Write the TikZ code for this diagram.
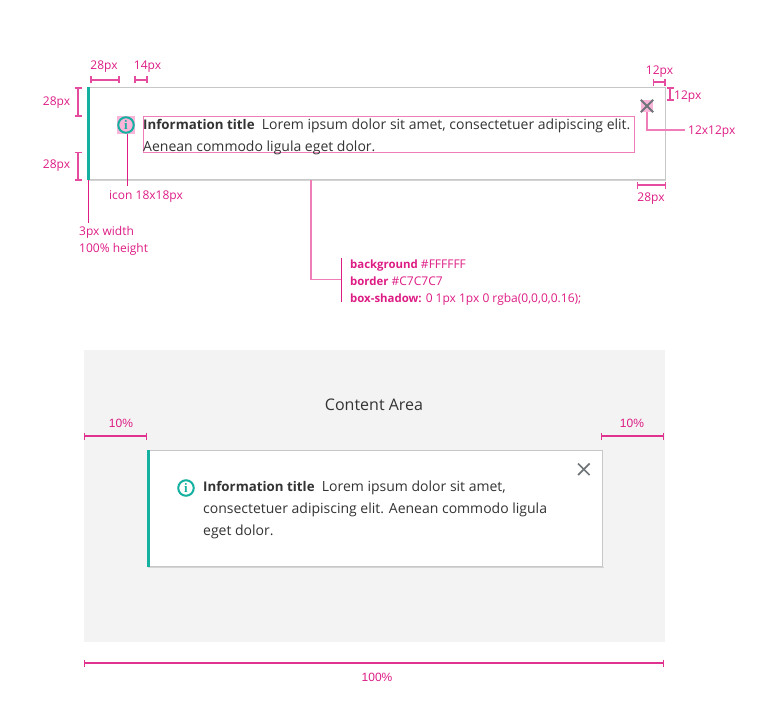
\documentclass[tikz,border=0pt]{standalone}
\usepackage{fontspec}
\setmainfont{Open Sans}[BoldFeatures={Scale=0.95}]
\newfontfamily\iconfont{Liberation Serif}
\newfontfamily\percentfont{Liberation Sans}
\usetikzlibrary{arrows.meta}

\definecolor{specPink}{HTML}{DD1C84}
\definecolor{dimPink}{HTML}{E54C9F}
\definecolor{leadPink}{HTML}{EE7DB8}
\definecolor{tagPink}{HTML}{F9B4DA}
\definecolor{alertTeal}{HTML}{14B0A0}
\definecolor{alertBorder}{HTML}{C7C7C7}
\definecolor{shadowGray}{HTML}{D4D4D4}
\definecolor{areaGray}{HTML}{F3F3F3}
\definecolor{bodyText}{HTML}{333333}
\definecolor{closeGray}{HTML}{6F7578}

\tikzset{
    spec/.style={text=specPink, font=\fontsize{12}{14}\selectfont, inner sep=0pt},
    percent/.style={text=specPink, font=\fontsize{12}{14}\percentfont, inner sep=0pt},
    copytext/.style={text=bodyText, font=\fontsize{14}{22}\selectfont, inner sep=0pt, anchor=base west},
    dimline/.style={dimPink, line width=2pt, {Bar[width=7pt,line width=1.5pt]}-{Bar[width=7pt,line width=1.5pt]}},
    thindim/.style={specPink!90!white, line width=1.5pt, {Bar[width=7pt,line width=1pt]}-{Bar[width=7pt,line width=1pt]}},
    leader/.style={specPink, line width=1pt},
    softleader/.style={leadPink, line width=1.5pt},
    infoicon/.style={circle, draw=alertTeal, line width=2pt, minimum size=15.5pt, inner sep=0pt, text=alertTeal, font=\fontsize{13}{13}\iconfont\bfseries},
}

\begin{document}
\begin{tikzpicture}[x=1pt, y=-1pt]
    \useasboundingbox (0,0) rectangle (760,720);

    % top card
    \fill[shadowGray] (88,179.5) rectangle (666,181);
    \draw[alertBorder, line width=1pt, fill=white] (87.5,87.5) rectangle (665.5,179.5);
    \fill[alertTeal] (87,87) rectangle (90,180);
    \coordinate (barEnd) at (88.5,180);
    \coordinate (cardEnd) at (311,180);

    \node[fill=tagPink, minimum size=18pt, inner sep=0pt] (iconTag) at (126,125) {};
    \node[infoicon] (iconTop) at (126,125) {i};
    \node[draw=leadPink, line width=1pt, minimum width=491pt, minimum height=36pt, inner sep=0pt] (textBox) at (389,134.5) {};
    \node[copytext] (titleTop) at (143,129) {\textbf{Information title}\ \ Lorem ipsum dolor sit amet, consectetuer adipiscing elit.};
    \node[copytext] (lineTop) at (143,151) {Aenean commodo ligula eget dolor.};

    \node[fill=tagPink, minimum size=12pt, inner sep=0pt] (closeTag) at (647,106) {};
    \draw[closeGray, line width=2pt] (closeTag.north west) -- (closeTag.south east);
    \draw[closeGray, line width=2pt] (closeTag.north east) -- (closeTag.south west);

    % measures on the top card
    \node[spec] (gapLeft) at (104,66.5) {28px};
    \draw[dimline] (90,79.5) -- (119.5,79.5);
    \node[spec] (gapIcon) at (147.5,66.5) {14px};
    \draw[dimline] (134,79.5) -- (147.5,79.5);
    \node[spec] (gapTop) at (56.5,102.5) {28px};
    \draw[dimline] (78,87) -- (78,116.5);
    \node[spec] (gapBottom) at (56.5,165.5) {28px};
    \draw[dimline] (78,151.5) -- (78,180.5);
    \node[spec] (closeRight) at (659.5,71.5) {12px};
    \draw[dimline] (652.5,82) -- (665.5,82);
    \node[spec, anchor=west] (closeTop) at (674,96.5) {12px};
    \draw[dimline] (670,87) -- (670,100.5);
    \node[spec] (padRight) at (651,198.5) {28px};
    \draw[dimline] (636.5,185) -- (666,185);

    \node[spec] (iconNote) at (146,196.5) {icon 18x18px};
    \draw[leader] (iconTag.south -| iconTop) ++(1.5,0) -- ++(0,52);
    \node[spec, anchor=west] (closeNote) at (688,131.5) {12x12px};
    \coordinate (closeStop) at (685,130);
    \draw[softleader] (closeTag.south) |- (closeStop);
    \node[spec, anchor=base west] (barWidth) at (79,235) {3px width};
    \node[spec, anchor=base west] (barHeight) at (79,252) {100\% height};
    \draw[leader] (barEnd) -- (88.5,223);

    \coordinate (noteFork) at (341.5,279.5);
    \draw[softleader] (cardEnd) |- (noteFork);
    \draw[leader] (341.5,258) -- (341.5,302);
    \node[spec, anchor=base west] (noteBg) at (350,268) {\textbf{background} \#FFFFFF};
    \node[spec, anchor=base west] (noteBorder) at (350,285) {\textbf{border} \#C7C7C7};
    \node[spec, anchor=base west] (noteShadow) at (350,302) {\textbf{box-shadow:} 0 1px 1px 0 rgba(0,0,0,0.16);};

    % content area
    \fill[areaGray] (84,350) rectangle (665,642);
    \node[text=bodyText, font=\fontsize{16}{18}\selectfont, inner sep=0pt] (areaTitle) at (374,405) {Content Area};
    \fill[shadowGray] (148,566.5) rectangle (604,568);
    \draw[alertBorder, line width=1pt, fill=white] (147.5,450.5) rectangle (602.5,566.5);
    \fill[alertTeal] (147,450) rectangle (150,567);
    \node[infoicon] (iconBottom) at (186,488) {i};
    \node[copytext] (titleBottom) at (203,491) {\textbf{Information title}\ \ Lorem ipsum dolor sit amet,};
    \node[copytext] (lineBottom) at (203,513) {consectetuer adipiscing elit. Aenean commodo ligula};
    \node[copytext] (lastBottom) at (203,535) {eget dolor.};
    \draw[closeGray, line width=1.75pt] (578,463.5) -- (589.5,475);
    \draw[closeGray, line width=1.75pt] (589.5,463.5) -- (578,475);

    % measures on the content area
    \node[percent] (sideLeft) at (121,423) {10\%};
    \draw[thindim] (84,436) -- (147,436);
    \node[percent] (sideRight) at (632,423) {10\%};
    \draw[thindim] (601,436) -- (664,436);
    \node[percent] (fullWidth) at (377,677) {100\%};
    \draw[thindim] (84,663) -- (664,663);
\end{tikzpicture}
\end{document}
